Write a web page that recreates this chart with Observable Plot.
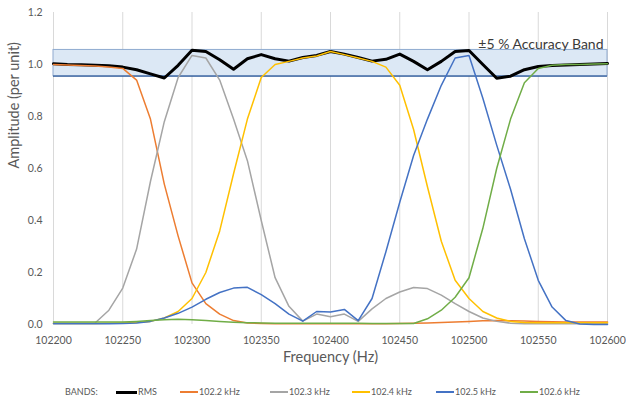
<!DOCTYPE html>
<html><head><meta charset="utf-8">
<script src="https://cdn.jsdelivr.net/npm/d3@7"></script>
<script src="https://cdn.jsdelivr.net/npm/@observablehq/plot@0.6"></script>
<style>
body{margin:0;background:#fff;font-family:Lato,"Open Sans",sans-serif;}
#wrap{position:relative;width:626px;height:407px;overflow:hidden;}
#legend{position:absolute;left:0;top:385px;height:14px;width:626px;font-size:9px;color:#595959;}
.item{position:absolute;top:0;height:14px;line-height:14px;white-space:nowrap;display:flex;align-items:center;}
.sw{display:block;margin-right:1px;flex:none;}
</style></head><body><div id="wrap"><div id="chart"></div><div id="legend"></div></div>
<script>
// ---- data ----
const freq = [102200,102210,102220,102230,102240,102250,102260,102270,102280,102290,
  102300,102310,102320,102330,102340,102350,102360,102370,102380,102390,
  102400,102410,102420,102430,102440,102450,102460,102470,102480,102490,
  102500,102510,102520,102530,102540,102550,102560,102570,102580,102590,102600];
const rms = [1.003,1.0,0.999,0.997,0.995,0.99,0.98,0.964,0.948,0.997,
  1.055,1.05,1.018,0.982,1.022,1.038,1.022,1.013,1.027,1.035,
  1.05,1.04,1.027,1.013,1.02,1.04,1.012,0.98,1.012,1.05,
  1.054,1.0,0.947,0.955,0.98,0.992,0.996,0.998,1.0,1.002,1.004];
const band1022 = [1.0,0.998,0.996,0.994,0.99,0.985,0.94,0.79,0.54,0.34,
  0.16,0.08,0.04,0.015,0.006,0.004,0.003,0.003,0.003,0.003,
  0.003,0.003,0.003,0.003,0.003,0.004,0.005,0.006,0.008,0.01,
  0.012,0.014,0.015,0.014,0.013,0.012,0.011,0.01,0.01,0.01,0.01];
const band1023 = [0.005,0.005,0.005,0.006,0.055,0.14,0.29,0.55,0.78,0.95,
  1.035,1.025,0.94,0.79,0.63,0.4,0.18,0.07,0.013,0.04,
  0.03,0.04,0.012,0.06,0.1,0.125,0.142,0.138,0.113,0.08,
  0.05,0.025,0.012,0.005,0.003,0.003,0.003,0.003,0.003,0.003,0.003];
const band1024 = [0.004,0.004,0.004,0.004,0.005,0.006,0.008,0.012,0.025,0.05,
  0.1,0.2,0.36,0.58,0.79,0.95,1.0,1.012,1.025,1.033,
  1.05,1.038,1.025,1.012,0.99,0.92,0.75,0.53,0.32,0.17,
  0.1,0.05,0.025,0.012,0.008,0.007,0.007,0.007,0.007,0.007,0.007];
const band1025 = [0.003,0.003,0.003,0.003,0.003,0.004,0.006,0.012,0.025,0.043,
  0.067,0.097,0.123,0.14,0.143,0.115,0.08,0.04,0.013,0.05,
  0.048,0.058,0.015,0.1,0.28,0.47,0.65,0.79,0.92,1.025,
  1.035,0.87,0.69,0.52,0.33,0.17,0.067,0.015,0.002,0.0,0.0];
const band1026 = [0.01,0.01,0.01,0.01,0.01,0.01,0.012,0.015,0.018,0.02,
  0.018,0.015,0.012,0.009,0.007,0.006,0.005,0.005,0.005,0.005,
  0.005,0.005,0.005,0.004,0.004,0.004,0.004,0.022,0.055,0.105,
  0.18,0.37,0.6,0.79,0.93,0.985,0.997,1.0,1.0,1.002,1.003];
const seriesNames = ["RMS","102.2 kHz","102.3 kHz","102.4 kHz","102.5 kHz","102.6 kHz"];
const xTicks = [102200,102250,102300,102350,102400,102450,102500,102550,102600];
const yTicks = [0,0.2,0.4,0.6,0.8,1.0,1.2];
const bandLow = 0.955, bandHigh = 1.056;
const bandLabel = "±5 % Accuracy Band";
const xTitle = "Frequency (Hz)";
const yTitle = "Amplitude (per unit)";
const legendTitle = "BANDS:";

// ---- styles ----
const colors = ["#000000","#ED7D31","#A5A5A5","#FFC000","#4472C4","#70AD47"];
const widths = [3,1.5,1.5,1.5,1.5,1.5];
const swH = [3,2,2,2,2,2];
const seriesVals = [rms, band1022, band1023, band1024, band1025, band1026];
const txt = "#595959";

const lines = seriesVals.map((vals, k) =>
  Plot.line(vals, {x: freq, y: d => d, stroke: colors[k], strokeWidth: widths[k],
    strokeLinejoin: "round", strokeLinecap: "round"}));

const chart = Plot.plot({
  width: 626, height: 378,
  marginLeft: 53, marginRight: 19, marginTop: 12, marginBottom: 54,
  style: {fontFamily: "Lato, 'Open Sans', sans-serif", background: "#fff", overflow: "visible"},
  x: {domain: [xTicks[0], xTicks[xTicks.length - 1]]},
  y: {domain: [yTicks[0], yTicks[yTicks.length - 1]]},
  marks: [
    Plot.gridX(xTicks, {stroke: "#d9d9d9", strokeOpacity: 1}),
    Plot.rect([{a: xTicks[0], b: xTicks[xTicks.length - 1], lo: bandLow, hi: bandHigh}],
      {x1: "a", x2: "b", y1: "lo", y2: "hi", fill: "#dce8f5", stroke: "#8faad0", strokeWidth: 1}),
    Plot.ruleY([bandLow], {stroke: "#2f5b9a", strokeWidth: 1.3}),
    ...lines,
    Plot.axisX(xTicks, {tickSize: 0, tickPadding: 12, fontSize: 10.5, fill: txt, tickFormat: d => String(d), label: null}),
    Plot.axisY(yTicks, {tickSize: 0, tickPadding: 11, fontSize: 10.5, fill: txt, tickFormat: d3.format(".1f"), label: null}),
    Plot.text([xTitle], {frameAnchor: "bottom", dy: 37, fontSize: 14.5, fill: txt}),
    Plot.text([yTitle], {frameAnchor: "left", dx: -39, rotate: -90, fontSize: 14.5, fill: txt}),
    Plot.text([bandLabel], {frameAnchor: "top-right", dx: -4, dy: 27, textAnchor: "end", fontSize: 14, fill: "#3a3a3a"})
  ]
});
document.getElementById("chart").appendChild(chart);

// ---- legend ----
const legend = document.getElementById("legend");
const legendX = [116, 180, 270, 352, 436, 520];
const swW = [21, 18, 18, 18, 18, 18];
const t = document.createElement("div");
t.className = "item"; t.style.left = "65px"; t.textContent = legendTitle;
legend.appendChild(t);
seriesNames.forEach((name, k) => {
  const it = document.createElement("div");
  it.className = "item"; it.style.left = legendX[k] + "px";
  const sw = document.createElement("span");
  sw.className = "sw";
  sw.style.width = swW[k] + "px"; sw.style.height = swH[k] + "px";
  sw.style.background = colors[k];
  it.appendChild(sw);
  const label = document.createElement("span");
  label.textContent = name;
  it.appendChild(label);
  legend.appendChild(it);
});
</script>
</body></html>
